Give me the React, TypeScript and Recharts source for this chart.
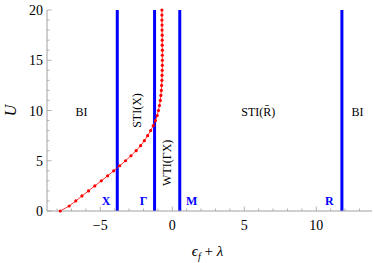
import { Line, LineChart, ReferenceDot, ReferenceLine, XAxis, YAxis, Label } from 'recharts';

// red boundary curve (U vs eps_f + lambda)
const curveU = [0, 0.5, 1, 1.5, 2, 2.5, 3, 3.5, 4, 4.5, 5, 5.5, 6, 6.5, 7, 7.5, 8, 8.5, 9, 9.5, 10, 10.5, 11, 11.5, 12, 12.5, 13, 13.5, 14, 14.5, 15, 15.5, 16, 16.5, 17, 17.5, 18, 18.5, 19, 19.5, 20];
const curveX = [-7.78, -7.16, -6.7, -6.27, -5.82, -5.38, -4.93, -4.49, -4.07, -3.65, -3.25, -2.87, -2.51, -2.2, -1.94, -1.71, -1.5, -1.32, -1.17, -1.05, -0.96, -0.89, -0.83, -0.79, -0.76, -0.74, -0.72, -0.71, -0.7, -0.69, -0.69, -0.69, -0.69, -0.7, -0.7, -0.7, -0.71, -0.71, -0.72, -0.72, -0.72];

// band-inversion points (vertical lines)
const pointNames = ['X', 'Γ', 'M', 'R'];
const pointX = [-3.82, -1.23, 0.52, 11.78];
const pointLabelX = [-4.6, -2.0, 1.35, 10.9];
const pointLabelU = 0.95;

// phase labels
const phaseNames = ['BI', 'STI(X)', 'WTI(ΓX)', 'STI(R̄)', 'BI'];
const phaseX = [-6.3, -2.43, -0.4, 5.97, 12.87];
const phaseU = [9.9, 10.0, 4.8, 9.9, 9.9];
const phaseRotate = [0, -90, -90, 0, 0];

const xDomain = [-8.7, 13.87];
const xTicks = [-8, -7, -6, -5, -4, -3, -2, -1, 0, 1, 2, 3, 4, 5, 6, 7, 8, 9, 10, 11, 12, 13];
const yTicks = [0, 1, 2, 3, 4, 5, 6, 7, 8, 9, 10, 11, 12, 13, 14, 15, 16, 17, 18, 19, 20];

const data = curveU.map((u, i) => ({ x: curveX[i], U: u }));

const FONT = '"Liberation Serif", "DejaVu Serif", serif';
const AXIS = '#a0a0a0';

const fmt = (v: number) => (v < 0 ? '\u2212' + Math.abs(v) : String(v));

function BottomTick(props: any) {
  const { x, y, payload } = props;
  const major = payload.value % 5 === 0;
  return (
    <g>
      <line x1={x} x2={x} y1={y} y2={y - (major ? 4.5 : 2.5)} stroke={AXIS} strokeWidth={0.8} />
      {major && (
        <text x={x} y={y + 19} textAnchor="middle" fontFamily={FONT} fontSize={14} fill="#000">
          {fmt(payload.value)}
        </text>
      )}
    </g>
  );
}

function TopTick(props: any) {
  const { x, y, payload } = props;
  const major = payload.value % 5 === 0;
  return <line x1={x} x2={x} y1={y} y2={y + (major ? 4.5 : 2.5)} stroke={AXIS} strokeWidth={0.8} />;
}

function LeftTick(props: any) {
  const { x, y, payload } = props;
  const major = payload.value % 5 === 0;
  return (
    <g>
      <line x1={x} x2={x + (major ? 4.5 : 2.5)} y1={y} y2={y} stroke={AXIS} strokeWidth={0.8} />
      {major && (
        <text x={x - 4} y={y + 5} textAnchor="end" fontFamily={FONT} fontSize={14} fill="#000">
          {payload.value}
        </text>
      )}
    </g>
  );
}

function RightTick(props: any) {
  const { x, y, payload } = props;
  const major = payload.value % 5 === 0;
  return <line x1={x} x2={x - (major ? 4.5 : 2.5)} y1={y} y2={y} stroke={AXIS} strokeWidth={0.8} />;
}

export default function App() {
  return (
    <div style={{ position: 'absolute', left: 0, top: 0 }}>
      <LineChart width={374} height={263} data={data} margin={{ top: 10, right: 2, bottom: 0, left: 0 }}>
        <XAxis
          dataKey="x"
          type="number"
          domain={xDomain}
          ticks={xTicks}
          interval={0}
          allowDataOverflow
          height={52}
          stroke={AXIS}
          tickLine={false}
          tickSize={0}
          tickMargin={0}
          tick={<BottomTick />}
        >
          <Label
            content={({ viewBox }: any) => (
              <text x={viewBox.x + viewBox.width / 2 - 2} y={viewBox.y + 45} textAnchor="middle" fontFamily={FONT} fontSize={15} fill="#000">
                <tspan fontStyle="italic">ϵ</tspan>
                <tspan fontStyle="italic" fontSize={10} dy={4}>f</tspan>
                <tspan dy={-4}> + </tspan>
                <tspan fontStyle="italic">λ</tspan>
              </text>
            )}
          />
        </XAxis>
        <XAxis
          xAxisId="top"
          orientation="top"
          type="number"
          domain={xDomain}
          ticks={xTicks}
          interval={0}
          allowDataOverflow
          height={0}
          stroke={AXIS}
          tickLine={false}
          tickSize={0}
          tickMargin={0}
          tick={<TopTick />}
        />
        <YAxis
          type="number"
          domain={[0, 20]}
          ticks={yTicks}
          interval={0}
          width={47}
          stroke={AXIS}
          tickLine={false}
          tickSize={0}
          tickMargin={0}
          tick={<LeftTick />}
        >
          <Label
            content={({ viewBox }: any) => (
              <text
                x={10}
                y={viewBox.y + viewBox.height / 2}
                transform={`rotate(-90 10 ${viewBox.y + viewBox.height / 2})`}
                textAnchor="middle"
                dominantBaseline="central"
                fontFamily={FONT}
                fontStyle="italic"
                fontSize={16}
                fill="#000"
              >
                U
              </text>
            )}
          />
        </YAxis>
        <YAxis
          yAxisId="right"
          orientation="right"
          type="number"
          domain={[0, 20]}
          ticks={yTicks}
          interval={0}
          width={0}
          stroke={AXIS}
          tickLine={false}
          tickSize={0}
          tickMargin={0}
          tick={<RightTick />}
        />
        {pointX.map((px, i) => (
          <ReferenceLine key={'l' + i} x={px} stroke="#0000ff" strokeWidth={3} />
        ))}
        <Line
          type="linear"
          dataKey="U"
          stroke="#ff0000"
          strokeWidth={0.8}
          dot={{ r: 1.6, fill: '#ff0000', stroke: 'none' }}
          isAnimationActive={false}
        />
        {pointNames.map((name, i) => (
          <ReferenceDot
            key={'p' + i}
            x={pointLabelX[i]}
            y={pointLabelU}
            r={0}
            shape={(p: any) => (
              <text x={p.cx} y={p.cy} textAnchor="middle" dominantBaseline="central" fontFamily={FONT} fontWeight="bold" fontSize={12} fill="#0000ff">
                {name}
              </text>
            )}
          />
        ))}
        {phaseNames.map((name, i) => (
          <ReferenceDot
            key={'t' + i}
            x={phaseX[i]}
            y={phaseU[i]}
            r={0}
            shape={(p: any) => (
              <text
                x={p.cx}
                y={p.cy}
                transform={phaseRotate[i] ? `rotate(${phaseRotate[i]} ${p.cx} ${p.cy})` : undefined}
                textAnchor="middle"
                dominantBaseline="central"
                fontFamily={FONT}
                fontSize={12}
                fill="#000"
              >
                {name}
              </text>
            )}
          />
        ))}
      </LineChart>
    </div>
  );
}
